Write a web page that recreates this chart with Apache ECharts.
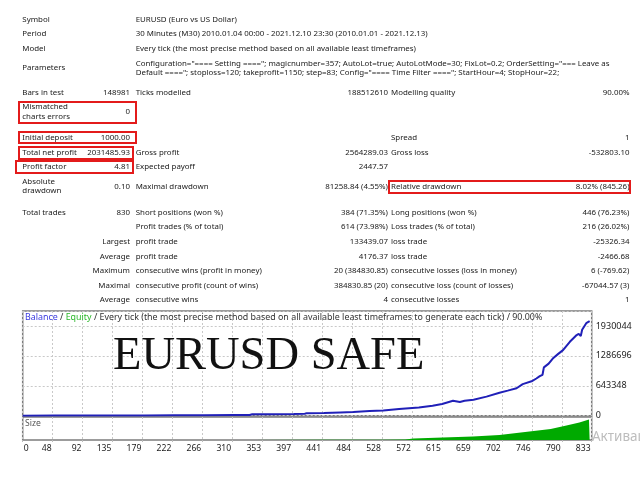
<!DOCTYPE html>
<html><head><meta charset="utf-8">
<script src="https://cdn.jsdelivr.net/npm/echarts@6/dist/echarts.min.js"></script>
<style>
html,body{margin:0;padding:0;background:#fff;width:640px;height:480px;overflow:hidden}
#chart{position:absolute;left:0;top:0;width:640px;height:480px}
#report{position:absolute;left:0;top:0;width:640px;height:305px;font-family:"Noto Sans",sans-serif;font-size:7.9px;color:#1a1a1a}
.t{position:absolute;white-space:pre;line-height:9.5px}
.box{position:absolute;border:2px solid #e31b1b;box-sizing:border-box}
</style></head><body>
<div id="chart"></div><div id="report"></div>
<script>
// ---------- report table texts ----------
const col1 = ['Symbol','Period','Model','Parameters','Bars in test','Mismatched\ncharts errors','Initial deposit','Total net profit','Profit factor','Absolute\ndrawdown','Total trades','','','','','',''];
const col2 = ['','','','','148981','0','1000.00','2031485.93','4.81','0.10','830','','Largest','Average','Maximum','Maximal','Average'];
const col3 = ['EURUSD (Euro vs US Dollar)',
  '30 Minutes (M30) 2010.01.04 00:00 - 2021.12.10 23:30 (2010.01.01 - 2021.12.13)',
  'Every tick (the most precise method based on all available least timeframes)',
  'Configuration="==== Setting ===="; magicnumber=357; AutoLot=true; AutoLotMode=30; FixLot=0.2; OrderSetting="=== Leave as\nDefault ===="; stoploss=120; takeprofit=1150; step=83; Config="==== Time Filter ===="; StartHour=4; StopHour=22;',
  'Ticks modelled','','','Gross profit','Expected payoff','Maximal drawdown','Short positions (won %)','Profit trades (% of total)','profit trade','profit trade','consecutive wins (profit in money)','consecutive profit (count of wins)','consecutive wins'];
const col4 = ['','','','','188512610','','','2564289.03','2447.57','81258.84 (4.55%)','384 (71.35%)','614 (73.98%)','133439.07','4176.37','20 (384830.85)','384830.85 (20)','4'];
const col5 = ['','','','','Modelling quality','','Spread','Gross loss','','Relative drawdown','Long positions (won %)','Loss trades (% of total)','loss trade','loss trade','consecutive losses (loss in money)','consecutive loss (count of losses)','consecutive losses'];
const col6 = ['','','','','90.00%','','1','-532803.10','','8.02% (845.26)','446 (76.23%)','216 (26.02%)','-25326.34','-2466.68','6 (-769.62)','-67044.57 (3)','1'];

// ---------- chart data ----------
const xTickLabels = ['0','48','92','135','179','222','266','310','353','397','441','484','528','572','615','659','702','746','790','833'];
const yTickStep = 643348;
const balanceTrade = [0,48,92,135,179,222,266,310,332,336,353,397,413,416,441,465,484,508,528,551,580,600,614,630,640,647,660,679,698,710,723,732,745,752,757,761,763,770,776,784,791,801,811,814,817,819,825,830];
const balanceValue = [1000,1800,2700,3900,5500,7800,11000,15000,17000,30000,32000,38000,42000,55000,60000,70000,78000,100000,112000,145000,175000,215000,250000,322000,295000,322000,345000,410000,495000,540000,590000,680000,740000,800000,850000,880000,1040000,1120000,1230000,1330000,1410000,1590000,1735000,1760000,1715000,1850000,1990000,2032486];
const sizeTrade = [0,333,441,528,560,572,615,659,698,748,773,796,815,829,830];
const sizeLots  = [0.02,0.2,0.4,0.7,1.0,3,5,7,10,18,22,29,35,41,41];

// ---------- layout (not data) ----------
const rowCenterY = [19.3,33.7,48.3,68,92.3,111.7,137.7,152.3,166.7,186.3,212.3,226.7,241.7,256.7,271,286,300];
const colAnchor = [{left:22.3},{right:130},{left:135.7},{right:388},{left:391},{right:629.5}];
const LH = 9.5;
const rep = document.getElementById('report');
[col1,col2,col3,col4,col5,col6].forEach((col,ci)=>{
  col.forEach((txt,ri)=>{
    if(!txt) return;
    const d = document.createElement('div');
    d.className='t';
    d.textContent = txt;
    const n = txt.split('\n').length;
    d.style.top = (rowCenterY[ri] - n*LH/2) + 'px';
    const a = colAnchor[ci];
    if (a.left !== undefined) d.style.left = a.left+'px';
    else { d.style.right = (640 - a.right)+'px'; d.style.textAlign='right'; }
    rep.appendChild(d);
  });
});
const boxes = [[18,101,119,23],[18,130.5,119,13.5],[18,145.7,115.5,14],[15,160.3,118.5,13.5],[388,180,243,14]];
boxes.forEach(b=>{const d=document.createElement('div');d.className='box';
  d.style.left=b[0]+'px';d.style.top=b[1]+'px';d.style.width=b[2]+'px';d.style.height=b[3]+'px';rep.appendChild(d);});

// ---------- chart ----------
const xMax = Number(xTickLabels[xTickLabels.length-1]);
const xStep = xMax/(xTickLabels.length-1);
const yMax = 2252000;
const FF = 'Noto Sans';
const chart = echarts.init(document.getElementById('chart'), null, {renderer:'canvas'});
const gridStyle = {show:true, backgroundColor:'#fff', borderColor:'#7c7c7c', borderWidth:1.5};
const dash = {color:'#c9c9c9', type:[2,2], width:1};
chart.setOption({
  animation:false,
  title:[
    {text:'{b|Balance} / {e|Equity} / Every tick (the most precise method based on all available least timeframes to generate each tick) / 90.00%',
     left:25, top:313, padding:0,
     textStyle:{fontFamily:FF, fontSize:8.9, fontWeight:'normal', color:'#333',
       rich:{b:{fontFamily:FF,fontSize:8.9,color:'#3a3ae0'}, e:{fontFamily:FF,fontSize:8.9,color:'#2cb82c'}}}},
    {text:'EURUSD SAFE', left:113, top:333, padding:0,
     textStyle:{fontFamily:'Liberation Serif', fontSize:46.5, fontWeight:'normal', color:'#111'}},
    {text:'Size', left:25, top:419.5, padding:0,
     textStyle:{fontFamily:FF, fontSize:8.6, fontWeight:'normal', color:'#555'}},
    {text:'Активация Windows', left:592, top:430, padding:0,
     textStyle:{fontFamily:FF, fontSize:13.5, fontWeight:'normal', color:'#bdbdbd'}}
  ],
  grid:[
    Object.assign({left:22.7, top:311, width:569, height:104.7}, gridStyle),
    Object.assign({left:22.7, top:417, width:569, height:23}, gridStyle)
  ],
  xAxis:[
    {gridIndex:0, type:'value', min:0, max:xMax, interval:xStep,
     axisLine:{show:false}, axisTick:{show:false}, axisLabel:{show:false},
     splitLine:{show:true, lineStyle:dash}},
    {gridIndex:1, type:'value', min:0, max:xMax, interval:xStep,
     axisLine:{show:false}, axisTick:{show:true, length:2, lineStyle:{color:'#bbb'}},
     splitLine:{show:true, lineStyle:dash},
     axisLabel:{show:true, margin:4, fontFamily:FF, fontSize:8.6, color:'#222',
       showMaxLabel:true,
       formatter:function(v){const i=Math.round(v/xStep); const s=xTickLabels[i]; if(s===undefined) return '';
         if(i===0) return '{l|'+s+'}'; return '{r'+s.length+'|'+s+'}';},
       rich:{l:{fontFamily:FF,fontSize:8.6,color:'#222',padding:[0,0,0,7]},
             r2:{fontFamily:FF,fontSize:8.6,color:'#222',padding:[0,12,0,0]},
             r3:{fontFamily:FF,fontSize:8.6,color:'#222',padding:[0,17,0,0]}}}}
  ],
  yAxis:[
    {gridIndex:0, type:'value', position:'right', min:0, max:yMax, interval:yTickStep,
     axisLine:{show:false}, axisTick:{show:false},
     splitLine:{show:true, lineStyle:dash},
     axisLabel:{margin:4, fontFamily:FF, fontSize:9, color:'#222', showMaxLabel:false,
       formatter:function(v){return String(v);}}},
    {gridIndex:1, type:'value', min:0, max:46, show:false}
  ],
  series:[
    {type:'line', xAxisIndex:1, yAxisIndex:1, showSymbol:false, silent:true,
     data: sizeTrade.map((t,i)=>[t,sizeLots[i]]),
     lineStyle:{width:0, color:'#00aa00'}, areaStyle:{color:'#00aa00', opacity:1}},
    {type:'line', xAxisIndex:0, yAxisIndex:0, showSymbol:false, silent:true, z:5,
     data: balanceTrade.map((t,i)=>[t,balanceValue[i]]),
     lineStyle:{width:2, color:'#2020b8'}}
  ]
});
</script>
</body></html>
